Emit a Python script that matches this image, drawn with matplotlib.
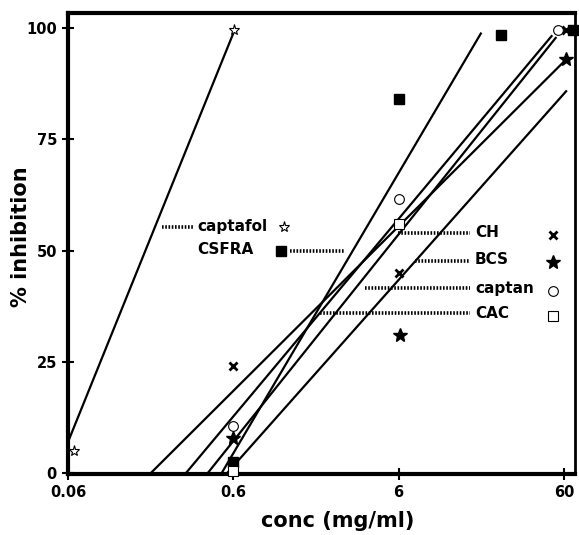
import numpy as np
import matplotlib.pyplot as plt

# measured points (conc in mg/ml, % inhibition)
captafol_x = [0.065, 0.61]
captafol_y = [5, 99.5]
csfra_x = [0.6, 6, 25, 68]
csfra_y = [2.5, 84, 98.5, 99.5]
ch_x = [0.6, 6, 62]
ch_y = [24, 45, 99.5]
bcs_x = [0.6, 6.1, 62]
bcs_y = [8, 31, 93]
captan_x = [0.6, 6, 55]
captan_y = [10.5, 61.5, 99.5]
cac_x = [0.6, 6]
cac_y = [0.5, 56]

# fitted lines: (x start, x end), (y start, y end)
fit_captafol = ([0.06, 0.61], [7, 99.5])
fit_csfra = ([0.51, 19], [0, 99])
fit_ch = ([0.19, 62], [0, 93])
fit_bcs = ([0.55, 62.5], [0, 86])
fit_captan = ([0.31, 51], [0, 98.4])
fit_cac = ([0.42, 54], [0, 98])

names = ["captafol", "CSFRA", "CH", "BCS", "captan", "CAC"]

fig = plt.figure(figsize=(5.79, 5.35), dpi=100)
ax = fig.add_axes([68/579, 1-474/535, 507/579, 461/535])
ax.set_xscale("log")
ax.set_xlim(0.06, 70)
ax.set_ylim(-0.2, 103.4)

lw = 1.6
for fx, fy in [fit_captafol, fit_csfra, fit_ch, fit_bcs, fit_captan, fit_cac]:
    ax.plot(fx, fy, color="black", lw=lw, solid_capstyle="butt", zorder=2)

styles = {
    "captafol": dict(marker="*", ms=8, mfc="white", mec="black", mew=0.8),
    "CSFRA": dict(marker="s", ms=7, mfc="black", mec="black"),
    "CH": dict(marker="x", ms=6, mec="black", mew=2),
    "BCS": dict(marker="*", ms=10, mfc="black", mec="black"),
    "captan": dict(marker="o", ms=7, mfc="white", mec="black", mew=0.8),
    "CAC": dict(marker="s", ms=6.5, mfc="white", mec="black", mew=0.8),
}
data = {
    "captafol": (captafol_x, captafol_y),
    "CSFRA": (csfra_x, csfra_y),
    "CH": (ch_x, ch_y),
    "BCS": (bcs_x, bcs_y),
    "captan": (captan_x, captan_y),
    "CAC": (cac_x, cac_y),
}
for n in names:
    xs, ys = data[n]
    ax.plot(xs, ys, ls="none", zorder=3, clip_on=False, **styles[n])

# labels with dotted leaders (positions in pixels of the figure)
def af(px, py):
    return ((px - 68) / 507, (474 - py) / 461)

label_pos = {
    "captafol": (197, 226, 284, 227, 162, 194, 227),
    "CSFRA": (197, 250, 281, 251, 290, 345, 251),
    "CH": (475, 233, 553, 235, 398, 470, 233),
    "BCS": (475, 260, 553, 262, 415, 470, 261),
    "captan": (475, 288, 553, 291, 365, 470, 288),
    "CAC": (475, 313, 553, 316, 320, 470, 313),
}
for n in names:
    tx, ty, sx, sy, l0, l1, ly = label_pos[n]
    ax.text(*af(tx, ty), n, transform=ax.transAxes, ha="left", va="center",
            fontsize=11, fontweight="bold", family="DejaVu Sans")
    st = dict(styles[n])
    ax.plot(*af(sx, sy), transform=ax.transAxes, ls="none", **st)
    a0 = af(l0, ly)
    a1 = af(l1, ly)
    ax.plot([a0[0], a1[0]], [a0[1], a1[1]], transform=ax.transAxes,
            color="black", lw=2.6, ls=(0, (0.45, 0.45)), zorder=2)

ax.set_xticks([0.06, 0.6, 6, 60])
ax.set_xticklabels(["0.06", "0.6", "6", "60"])
ax.minorticks_off()
ax.set_yticks([0, 25, 50, 75, 100])
ax.tick_params(direction="inout", length=8, width=1.5, labelsize=10.5, pad=4)
for lab in ax.get_xticklabels() + ax.get_yticklabels():
    lab.set_fontweight("bold")

for s in ["left", "bottom", "top"]:
    ax.spines[s].set_linewidth(3)
ax.spines["right"].set_linewidth(2)

fig.text(338/579, 1 - 521/535, "conc (mg/ml)", ha="center", va="center",
         fontsize=15, fontweight="bold")
fig.text(21/579, 1 - 237/535, "% inhibition", ha="center", va="center",
         rotation=90, fontsize=15, fontweight="bold")

fig.savefig("out.png", dpi=100)
